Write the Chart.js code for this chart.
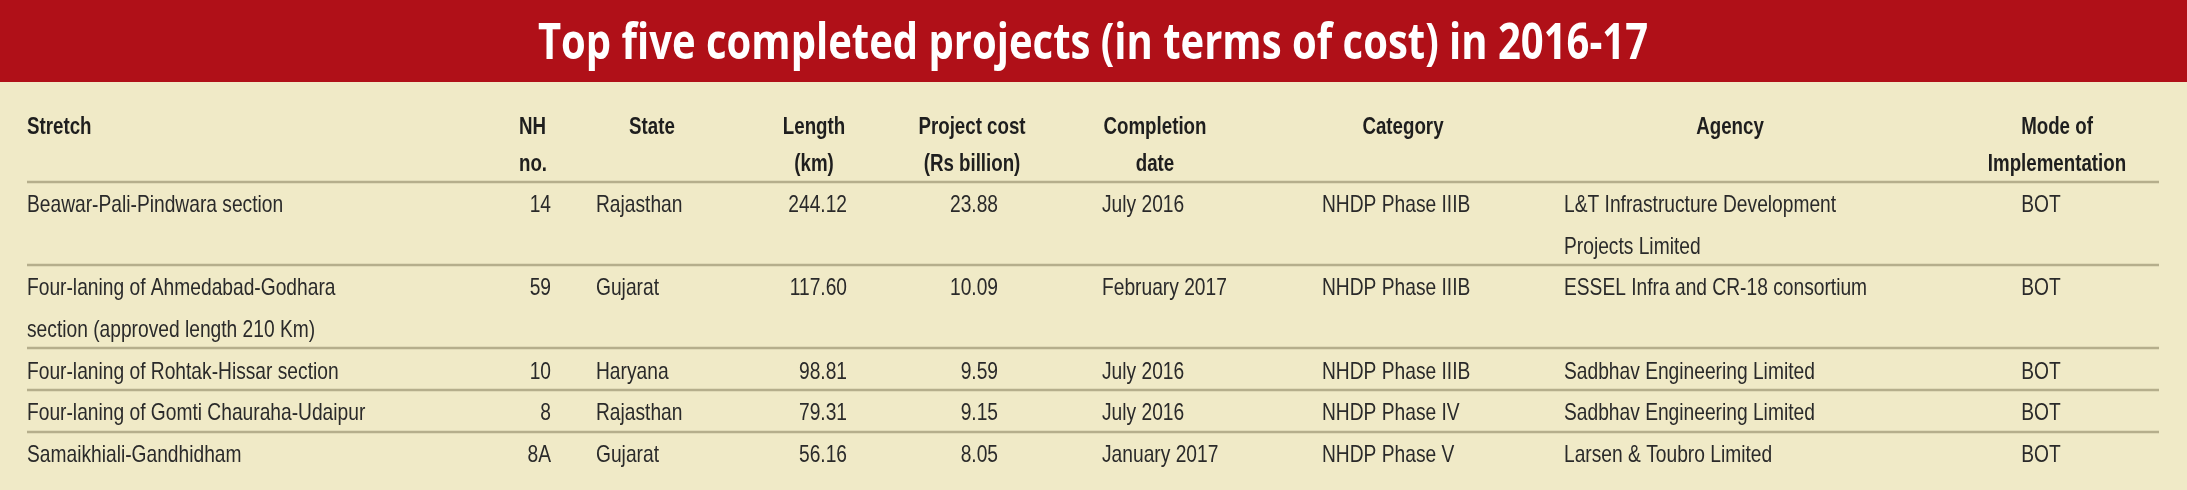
<!DOCTYPE html>
<html>
<head>
<meta charset="utf-8">
<script src="https://cdn.jsdelivr.net/npm/chart.js@4"></script>
<style>
  html, body { margin: 0; padding: 0; background: #f0eac7; }
  #wrap { width: 2187px; height: 490px; }
</style>
</head>
<body>
<div id="wrap"><canvas id="table-chart"></canvas></div>
<script>
// Datos de la tabla
const title = 'Top five completed projects (in terms of cost) in 2016-17';
const headers = [
  ['Stretch'], ['NH', 'no.'], ['State'], ['Length', '(km)'], ['Project cost', '(Rs billion)'],
  ['Completion', 'date'], ['Category'], ['Agency'], ['Mode of', 'Implementation']
];
const stretch = [
  ['Beawar-Pali-Pindwara section'],
  ['Four-laning of Ahmedabad-Godhara', 'section (approved length 210 Km)'],
  ['Four-laning of Rohtak-Hissar section'],
  ['Four-laning of Gomti Chauraha-Udaipur'],
  ['Samaikhiali-Gandhidham']
];
const nhNo = ['14', '59', '10', '8', '8A'];
const state = ['Rajasthan', 'Gujarat', 'Haryana', 'Rajasthan', 'Gujarat'];
const lengthKm = ['244.12', '117.60', '98.81', '79.31', '56.16'];
const costBn = ['23.88', '10.09', '9.59', '9.15', '8.05'];
const completion = ['July 2016', 'February 2017', 'July 2016', 'July 2016', 'January 2017'];
const category = ['NHDP Phase IIIB', 'NHDP Phase IIIB', 'NHDP Phase IIIB', 'NHDP Phase IV', 'NHDP Phase V'];
const agency = [
  ['L&T Infrastructure Development', 'Projects Limited'],
  ['ESSEL Infra and CR-18 consortium'],
  ['Sadbhav Engineering Limited'],
  ['Sadbhav Engineering Limited'],
  ['Larsen & Toubro Limited']
];
const mode = ['BOT', 'BOT', 'BOT', 'BOT', 'BOT'];

// Disposición (píxeles de la escala)
const cols = [
  { hx: 27, ha: 'left', x: 27, a: 'left' },
  { hx: 519, ha: 'left', x: 551, a: 'right' },
  { hx: 652, ha: 'center', x: 596, a: 'left' },
  { hx: 814, ha: 'center', x: 847, a: 'right' },
  { hx: 972, ha: 'center', x: 998, a: 'right' },
  { hx: 1155, ha: 'center', x: 1102, a: 'left' },
  { hx: 1403, ha: 'center', x: 1322, a: 'left' },
  { hx: 1730, ha: 'center', x: 1564, a: 'left' },
  { hx: 2057, ha: 'center', x: 2041, a: 'center' }
];
const rowY = [205, 288, 372, 413, 455];
const sepY = [182, 265, 348, 390, 432];
const lineGap = 42;

function txt(ctx, s, x, y, align, font, color, sx) {
  ctx.save();
  ctx.font = font;
  ctx.fillStyle = color;
  ctx.textBaseline = 'middle';
  ctx.textAlign = align;
  ctx.translate(x, y);
  ctx.scale(sx, 1);
  ctx.fillText(s, 0, 0);
  ctx.restore();
}

const tablePlugin = {
  id: 'tablePlugin',
  beforeDraw(chart) {
    const { ctx } = chart;
    const xs = chart.scales.x, ys = chart.scales.y;
    const px = v => xs.getPixelForValue(v), py = v => ys.getPixelForValue(v);
    ctx.save();
    ctx.fillStyle = '#f0eac7';
    ctx.fillRect(0, 0, chart.width, chart.height);
    ctx.fillStyle = '#b01018';
    ctx.fillRect(px(0), py(0), px(2187) - px(0), py(82) - py(0));
    ctx.restore();
    txt(ctx, title, px(1093), py(45), 'center', 'bold 50px "Open Sans"', '#ffffff', 0.8);

    // líneas separadoras
    ctx.save();
    ctx.strokeStyle = '#b5ae8c';
    ctx.lineWidth = 2.5;
    sepY.forEach(y => {
      ctx.beginPath();
      ctx.moveTo(px(27), py(y));
      ctx.lineTo(px(2159), py(y));
      ctx.stroke();
    });
    ctx.restore();

    const hf = 'bold 24px "Liberation Sans"', bf = '24px "Liberation Sans"';
    headers.forEach((h, i) => {
      h.forEach((s, j) => txt(ctx, s, px(cols[i].hx), py(127 + j * 37), cols[i].ha, hf, '#1e1e1e', 0.78));
    });
    const body = [stretch, nhNo, state, lengthKm, costBn, completion, category, agency, mode];
    body.forEach((col, i) => {
      col.forEach((cell, r) => {
        const lines = Array.isArray(cell) ? cell : [cell];
        lines.forEach((s, j) => txt(ctx, s, px(cols[i].x), py(rowY[r] + j * lineGap), cols[i].a, bf, '#2a2a2a', 0.8));
      });
    });
  }
};

new Chart(document.getElementById('table-chart'), {
  type: 'scatter',
  data: { datasets: [{ data: [], showLine: false }] },
  options: {
    responsive: true,
    maintainAspectRatio: false,
    animation: false,
    layout: { padding: 0 },
    plugins: { legend: { display: false }, tooltip: { enabled: false } },
    scales: {
      x: { type: 'linear', min: 0, max: 2187, display: false },
      y: { type: 'linear', min: 0, max: 490, reverse: true, display: false }
    }
  },
  plugins: [tablePlugin]
});
</script>
</body>
</html>
